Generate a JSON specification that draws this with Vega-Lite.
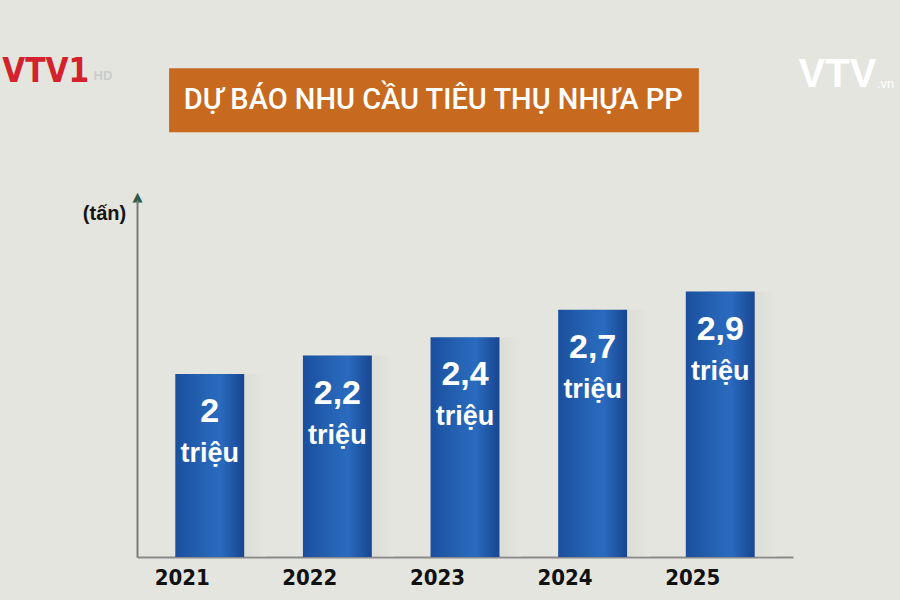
{
  "$schema": "https://vega.github.io/schema/vega-lite/v6.json",
  "width": 656,
  "height": 357,
  "autosize": {"type": "none"},
  "padding": {"left": 137, "top": 200, "right": 107, "bottom": 43},
  "background": "#e4e5de",
  "config": {"view": {"stroke": null}},
  "data": {
    "values": [
      {"year": "2021", "value": 2.0, "label": "2", "unit": "triệu"},
      {"year": "2022", "value": 2.2, "label": "2,2", "unit": "triệu"},
      {"year": "2023", "value": 2.4, "label": "2,4", "unit": "triệu"},
      {"year": "2024", "value": 2.7, "label": "2,7", "unit": "triệu"},
      {"year": "2025", "value": 2.9, "label": "2,9", "unit": "triệu"}
    ]
  },
  "layer": [
    {
      "mark": {
        "type": "bar",
        "xOffset": 22,
        "opacity": 0.35,
        "color": {
          "gradient": "linear", "x1": 0, "x2": 1, "y1": 0, "y2": 0,
          "stops": [
            {"offset": 0, "color": "#9a9c98"},
            {"offset": 1, "color": "#e4e5de"}
          ]
        }
      },
      "encoding": {
        "x": {"field": "year", "type": "nominal"},
        "y": {"field": "value", "type": "quantitative"}
      }
    },
    {
      "mark": {
        "type": "bar",
        "color": {
          "gradient": "linear", "x1": 0, "x2": 1, "y1": 0, "y2": 0,
          "stops": [
            {"offset": 0, "color": "#1b4f9e"},
            {"offset": 0.4, "color": "#2562b3"},
            {"offset": 0.65, "color": "#2a6bbf"},
            {"offset": 1, "color": "#184691"}
          ]
        }
      },
      "encoding": {
        "x": {
          "field": "year",
          "type": "nominal",
          "scale": {"paddingInner": 0.46, "paddingOuter": 0.3},
          "axis": {
            "title": null,
            "ticks": false,
            "labelAngle": 0,
            "labelPadding": 20,
            "labelFont": "DejaVu Sans Condensed",
            "labelFontWeight": "bold",
            "labelFontSize": 22,
            "labelColor": "#111111",
            "domainColor": "#8a8a8a",
            "domainWidth": 2
          }
        },
        "y": {
          "field": "value",
          "type": "quantitative",
          "scale": {"domain": [0, 3.9], "nice": false, "zero": true},
          "axis": {
            "title": "(tấn)",
            "titleAngle": 0,
            "titleX": -33,
            "titleY": 13,
            "titleAlign": "center",
            "titleBaseline": "middle",
            "titleFont": "Liberation Sans",
            "titleFontWeight": "bold",
            "titleFontSize": 20,
            "titleColor": "#151515",
            "values": [3.9],
            "labelExpr": "'▲'",
            "ticks": false,
            "grid": false,
            "labelAlign": "center",
            "labelBaseline": "alphabetic",
            "labelPadding": 0,
            "labelFlush": false,
            "labelOverlap": false,
            "labelFont": "DejaVu Sans",
            "labelFontSize": 13,
            "labelColor": "#2e5b4c",
            "domainColor": "#7a7a7a",
            "domainWidth": 2
          }
        }
      }
    },
    {
      "mark": {
        "type": "text",
        "baseline": "middle",
        "dy": 38,
        "font": "Liberation Sans",
        "fontWeight": "bold",
        "fontSize": 34,
        "color": "#ffffff"
      },
      "encoding": {
        "x": {"field": "year", "type": "nominal"},
        "y": {"field": "value", "type": "quantitative"},
        "text": {"field": "label"}
      }
    },
    {
      "mark": {
        "type": "text",
        "baseline": "middle",
        "dy": 80,
        "font": "Liberation Sans",
        "fontWeight": "bold",
        "fontSize": 27,
        "color": "#ffffff"
      },
      "encoding": {
        "x": {"field": "year", "type": "nominal"},
        "y": {"field": "value", "type": "quantitative"},
        "text": {"field": "unit"}
      }
    },
    {
      "data": {"values": [{"heading": "DỰ BÁO NHU CẦU TIÊU THỤ NHỰA PP"}]},
      "mark": {"type": "rect", "color": "#c7691f"},
      "encoding": {
        "x": {"datum": "2021", "bandPosition": -0.09},
        "x2": {"datum": "2025", "bandPosition": 0.19},
        "y": {"datum": 5.34},
        "y2": {"datum": 4.64}
      }
    },
    {
      "data": {"values": [{"heading": "DỰ BÁO NHU CẦU TIÊU THỤ NHỰA PP"}]},
      "mark": {
        "type": "text",
        "baseline": "middle",
        "align": "center",
        "font": "Roboto",
        "fontWeight": 500,
        "fontSize": 29,
        "color": "#ffffff"
      },
      "encoding": {
        "x": {"datum": "2023", "bandPosition": 0.04},
        "y": {"datum": 4.99},
        "text": {"field": "heading"}
      }
    },
    {
      "data": {"values": [{"logo": "VTV1"}]},
      "mark": {
        "type": "text",
        "baseline": "middle",
        "align": "center",
        "font": "DejaVu Sans Condensed",
        "fontWeight": "bold",
        "fontSize": 33,
        "color": "#d3222b"
      },
      "encoding": {
        "x": {"datum": "2021", "bandPosition": -1.88},
        "y": {"datum": 5.3},
        "text": {"field": "logo"}
      }
    },
    {
      "data": {"values": [{"logo": "HD"}]},
      "mark": {
        "type": "text",
        "baseline": "middle",
        "align": "center",
        "font": "Liberation Sans",
        "fontWeight": "bold",
        "fontSize": 13,
        "color": "#c9ccca"
      },
      "encoding": {
        "x": {"datum": "2021", "bandPosition": -1.05},
        "y": {"datum": 5.25},
        "text": {"field": "logo"}
      }
    },
    {
      "data": {"values": [{"logo": "VTV"}]},
      "mark": {
        "type": "text",
        "baseline": "middle",
        "align": "center",
        "font": "Liberation Sans",
        "fontWeight": "bold",
        "fontSize": 40,
        "color": "#ffffff"
      },
      "encoding": {
        "x": {"datum": "2025", "bandPosition": 2.2},
        "y": {"datum": 5.27},
        "text": {"field": "logo"}
      }
    },
    {
      "data": {"values": [{"logo": ".vn"}]},
      "mark": {
        "type": "text",
        "baseline": "middle",
        "align": "center",
        "font": "Liberation Sans",
        "fontSize": 13,
        "color": "#ffffff"
      },
      "encoding": {
        "x": {"datum": "2025", "bandPosition": 2.9},
        "y": {"datum": 5.17},
        "text": {"field": "logo"}
      }
    }
  ]
}
